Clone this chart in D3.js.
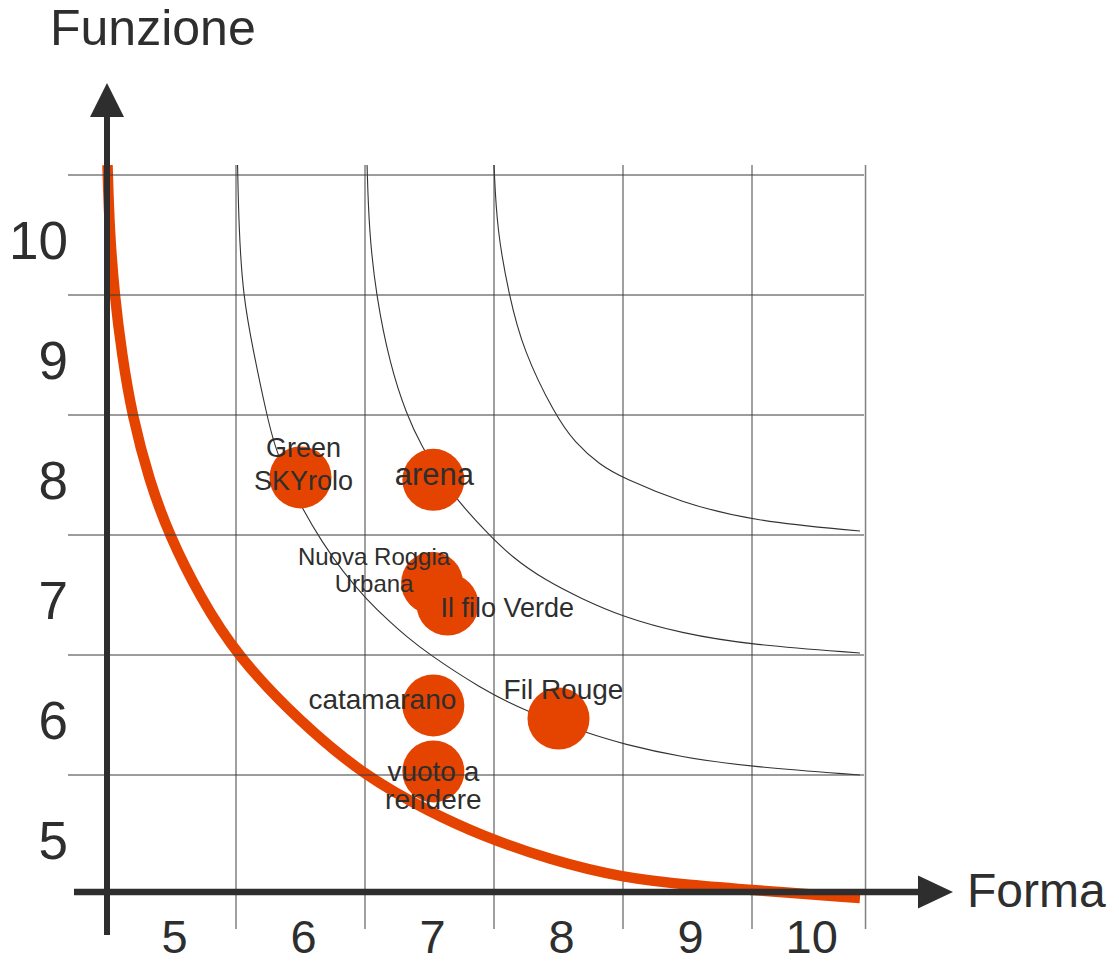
<!DOCTYPE html>
<html>
<head>
<meta charset="utf-8">
<script src="https://cdn.jsdelivr.net/npm/d3@7"></script>
<style>
  body { margin: 0; background: #fff; }
  svg { display: block; font-family: "Liberation Sans", Arial, sans-serif; }
</style>
</head>
<body>
<svg width="1119" height="962"></svg>
<script>
// bubbles
const projects = ["Green SKYrolo", "arena", "Nuova Roggia Urbana", "Il filo Verde", "catamarano", "vuoto a rendere", "Fil Rouge"];
const labelLines = [["Green", "SKYrolo"], ["arena"], ["Nuova Roggia", "Urbana"], ["Il filo Verde"], ["catamarano"], ["vuoto a", "rendere"], ["Fil Rouge"]];
const forma = [6.0, 7.03, 7.02, 7.14, 7.03, 7.03, 8.0];
const funzione = [7.98, 7.96, 7.10, 6.92, 6.08, 5.53, 5.97];

// tick labels and grid
const xTicks = [5, 6, 7, 8, 9, 10];
const yTicks = [10, 9, 8, 7, 6, 5];
const xGrid = [5.5, 6.5, 7.5, 8.5, 9.5, 10.38];
const yGrid = [10.5, 9.5, 8.5, 7.5, 6.5, 5.5];

// thick threshold curve
const minForma = [4.504, 4.519, 4.558, 4.616, 4.694, 4.826, 4.981, 5.221, 5.508, 5.996, 6.508, 7.004, 7.391, 7.934, 8.5, 9.019, 9.5, 10.337];
const minFunzione = [10.583, 10.042, 9.5, 9.0, 8.5, 7.958, 7.5, 6.983, 6.492, 5.942, 5.483, 5.192, 5.0, 4.792, 4.642, 4.583, 4.542, 4.475];

// thin iso curves
const iso1Forma = [5.512, 5.523, 5.554, 5.632, 5.738, 5.802, 5.895, 6.019, 6.167, 6.329, 6.516, 6.694, 6.826, 6.981, 7.391, 7.756, 8.221, 8.5, 8.942, 9.5, 10.337];
const iso1Funzione = [10.583, 10.042, 9.5, 9.042, 8.5, 8.233, 7.983, 7.708, 7.442, 7.192, 6.958, 6.775, 6.65, 6.517, 6.225, 6.025, 5.85, 5.758, 5.65, 5.567, 5.5];
const iso2Forma = [6.516, 6.531, 6.585, 6.694, 6.823, 6.942, 7.074, 7.213, 7.446, 7.647, 7.895, 8.167, 8.5, 8.942, 9.5, 10.337];
const iso2Funzione = [10.583, 10.042, 9.5, 8.917, 8.5, 8.233, 8.008, 7.792, 7.517, 7.308, 7.125, 6.975, 6.817, 6.683, 6.583, 6.517];
const iso3Forma = [7.5, 7.523, 7.616, 7.725, 7.973, 8.128, 8.322, 8.5, 8.942, 9.5, 10.337];
const iso3Funzione = [10.583, 10.042, 9.5, 9.042, 8.5, 8.267, 8.083, 7.975, 7.775, 7.617, 7.533];

const orange = "#e54300";
const ink = "#2e2e2e";

const svg = d3.select("svg");
const x = d3.scaleLinear().domain([4.5, 10.5]).range([107, 881]);
const y = d3.scaleLinear().domain([4.5, 10.5]).range([895, 175]);

const zip = (xs, ys) => xs.map((v, i) => [v, ys[i]]);
const line = d3.line()
    .x(d => x(d[0]))
    .y(d => y(d[1]))
    .curve(d3.curveBasis);

// vertical grid
svg.append("g")
    .selectAll("line")
    .data(xGrid)
    .join("line")
    .attr("x1", d => x(d)).attr("x2", d => x(d))
    .attr("y1", 165).attr("y2", 929)
    .attr("stroke", "#808080")
    .attr("stroke-width", 1.5);

// thin curves
svg.append("g")
    .selectAll("path")
    .data([zip(iso1Forma, iso1Funzione), zip(iso2Forma, iso2Funzione), zip(iso3Forma, iso3Funzione)])
    .join("path")
    .attr("d", line)
    .attr("fill", "none")
    .attr("stroke", "#333")
    .attr("stroke-width", 1.1);

// thick curve
svg.append("path")
    .attr("d", line(zip(minForma, minFunzione)))
    .attr("fill", "none")
    .attr("stroke", orange)
    .attr("stroke-width", 10.5);

// bubbles
svg.append("g")
    .selectAll("circle")
    .data(projects)
    .join("circle")
    .attr("cx", (d, i) => x(forma[i]))
    .attr("cy", (d, i) => y(funzione[i]))
    .attr("r", 31)
    .attr("fill", orange);

// horizontal grid
svg.append("g")
    .selectAll("line")
    .data(yGrid)
    .join("line")
    .attr("x1", 68).attr("x2", 864)
    .attr("y1", d => y(d)).attr("y2", d => y(d))
    .attr("stroke", "#3a3a3a")
    .attr("stroke-width", 1.2);

// label placement relative to bubble centre
const labelLayout = {
  "Green SKYrolo":       { dx: 3,   dy: -20, lh: 33, size: 27, anchor: "middle" },
  "arena":               { dx: 1,   dy: 5,   lh: 0,  size: 31, anchor: "middle" },
  "Nuova Roggia Urbana": { dx: -58, dy: -18, lh: 27, size: 24, anchor: "middle" },
  "Il filo Verde":       { dx: -7,  dy: 12,  lh: 0,  size: 27, anchor: "start" },
  "catamarano":          { dx: -51, dy: 4,   lh: 0,  size: 28, anchor: "middle" },
  "vuoto a rendere":     { dx: 0,   dy: 10,  lh: 28, size: 28, anchor: "middle" },
  "Fil Rouge":           { dx: 5,   dy: -20, lh: 0,  size: 28, anchor: "middle" }
};

const labels = svg.append("g")
    .selectAll("text")
    .data(projects)
    .join("text")
    .attr("fill", ink)
    .attr("font-size", d => labelLayout[d].size)
    .attr("text-anchor", d => labelLayout[d].anchor);
labels.each(function(d, i) {
  const l = labelLayout[d];
  d3.select(this).selectAll("tspan")
      .data(labelLines[i])
      .join("tspan")
      .attr("x", x(forma[i]) + l.dx)
      .attr("y", (t, j) => y(funzione[i]) + l.dy + j * l.lh)
      .text(t => t);
});

// axes with arrow heads
const axisY = 892;
svg.append("line")
    .attr("x1", x(4.5)).attr("x2", x(4.5))
    .attr("y1", 115).attr("y2", 935)
    .attr("stroke", ink).attr("stroke-width", 6);
svg.append("line")
    .attr("x1", 74).attr("x2", 920)
    .attr("y1", axisY).attr("y2", axisY)
    .attr("stroke", ink).attr("stroke-width", 6.5);
svg.append("path")
    .attr("d", `M${x(4.5)},83 L${x(4.5) - 17},117 L${x(4.5) + 17},117 Z`)
    .attr("fill", ink);
svg.append("path")
    .attr("d", `M953,${axisY} L918,${axisY - 16.5} L918,${axisY + 16.5} Z`)
    .attr("fill", ink);

// tick labels, centred in each grid column
const colEdges = [4.5].concat(xGrid);
svg.append("g")
    .selectAll("text")
    .data(xTicks)
    .join("text")
    .attr("x", (d, i) => (x(colEdges[i]) + x(colEdges[i + 1])) / 2 + 3)
    .attr("y", 953)
    .attr("text-anchor", "middle")
    .attr("font-size", 47)
    .attr("fill", ink)
    .text(d => d);

svg.append("g")
    .selectAll("text")
    .data(yTicks)
    .join("text")
    .attr("x", 68)
    .attr("y", d => y(d) + 24)
    .attr("text-anchor", "end")
    .attr("font-size", 53)
    .attr("fill", ink)
    .text(d => d);

// axis titles
svg.append("text")
    .attr("x", 50).attr("y", 45)
    .attr("font-size", 50)
    .attr("fill", ink)
    .text("Funzione");
svg.append("text")
    .attr("x", 967).attr("y", 907)
    .attr("font-size", 48)
    .attr("fill", ink)
    .text("Forma");
</script>
</body>
</html>
